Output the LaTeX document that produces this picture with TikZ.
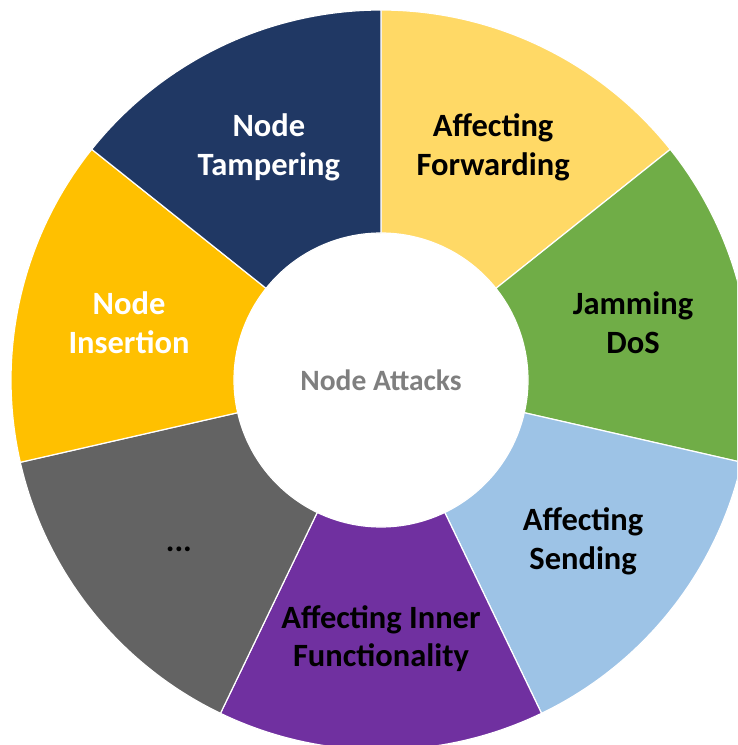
\documentclass[tikz,border=0pt]{standalone}
\usepackage{fontspec}
\setmainfont{Carlito}
\definecolor{segnavy}{HTML}{203864}
\definecolor{segcream}{HTML}{FFD966}
\definecolor{seggreen}{HTML}{70AD47}
\definecolor{segsky}{HTML}{9DC3E6}
\definecolor{segviolet}{HTML}{7030A0}
\definecolor{segslate}{HTML}{636363}
\definecolor{seggold}{HTML}{FFC000}
\definecolor{hubtext}{HTML}{7F7F7F}
\tikzset{
  ring/.style={draw=white, line width=1.2pt},
  seglabel/.style={align=center, font=\fontsize{32.5}{38.5}\selectfont\bfseries, text=black},
  hublabel/.style={font=\fontsize{29.5}{35}\selectfont\bfseries, text=hubtext}
}
% one ring segment between two angles
\newcommand{\ringseg}[3]{%
  \path[ring, fill=#3] (#1:370) arc[start angle=#1, end angle=#2, radius=370]
    -- (#2:147) arc[start angle=#2, end angle=#1, radius=147] -- cycle;}
\begin{document}
\begin{tikzpicture}[x=1pt,y=1pt]
  \useasboundingbox (0,0) rectangle (737,-745);
  \clip (0,0) rectangle (737,-745);
  \begin{scope}[shift={(381,-380)}]
    \pgfmathsetmacro{\w}{360/7}
    \ringseg{90}{90-\w}{segcream}
    \ringseg{90-\w}{90-2*\w}{seggreen}
    \ringseg{90-2*\w}{90-3*\w}{segsky}
    \ringseg{90-3*\w}{90-4*\w}{segviolet}
    \ringseg{90-4*\w}{90-5*\w}{segslate}
    \ringseg{90-5*\w}{90-6*\w}{seggold}
    \ringseg{90-6*\w}{90-7*\w}{segnavy}
    \node[hublabel] (hub) at (0,0) {Node Attacks};
    \node[seglabel] (fwd) at ({90-0.5*\w}:258.5) {Affecting\\Forwarding};
    \node[seglabel] (jam) at ({90-1.5*\w}:258.5) {Jamming\\DoS};
    \node[seglabel] (snd) at ({90-2.5*\w}:258.5) {Affecting\\Sending};
    \node[seglabel] (inner) at ({90-3.5*\w}:258.5) {Affecting Inner\\Functionality};
    \node[seglabel, yshift=-8] (more) at ({90-4.5*\w}:258.5) {...};
    \node[seglabel, text=white] (ins) at ({90-5.5*\w}:258.5) {Node\\Insertion};
    \node[seglabel, text=white] (tamp) at ({90-6.5*\w}:258.5) {Node\\Tampering};
  \end{scope}
\end{tikzpicture}
\end{document}
